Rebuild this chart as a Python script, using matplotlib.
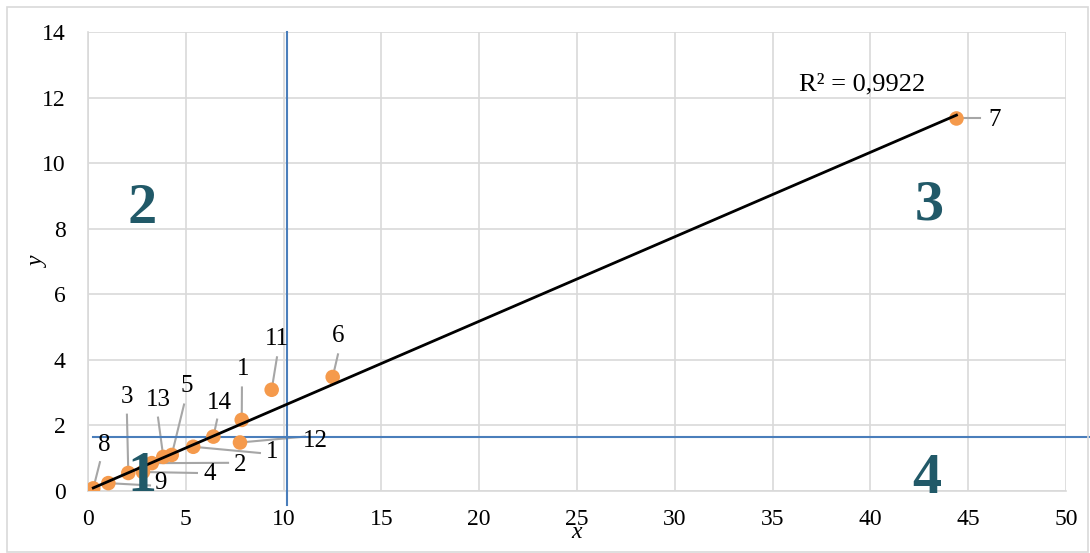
import numpy as np
import matplotlib
matplotlib.use("Agg")
import matplotlib.pyplot as plt
from matplotlib.patches import Rectangle

# ---- data ----
point_labels = ["8", "9", "3", "4", "2", "13", "5", "1", "14", "1", "12", "11", "6", "7"]
x_vals = [0.27, 1.04, 2.06, 2.81, 3.26, 3.85, 4.28, 5.38, 6.41, 7.86, 7.77, 9.39, 12.51, 44.4]
y_vals = [0.08, 0.24, 0.55, 0.58, 0.85, 1.04, 1.10, 1.35, 1.66, 2.17, 1.48, 3.09, 3.48, 11.37]
r2_text = "R² = 0,9922"
x_threshold = 10.17
y_threshold = 1.66
x_ticks = [0, 5, 10, 15, 20, 25, 30, 35, 40, 45, 50]
y_ticks = [0, 2, 4, 6, 8, 10, 12, 14]
quadrant_names = ["1", "2", "3", "4"]

# ---- layout (label positions and leader-line starts, data coords) ----
label_pos = [(0.82, 1.40), (3.68, 0.24), (1.99, 2.88), (6.24, 0.52), (7.77, 0.80),
             (3.58, 2.79), (5.06, 3.19), (9.41, 1.20), (6.70, 2.70), (7.92, 3.71),
             (11.6, 1.53), (9.66, 4.63), (12.78, 4.72), (46.37, 11.32)]
leader_start = [(0.61, 0.88), (3.17, 0.17), (1.99, 2.33), (5.57, 0.55), (7.16, 0.86),
                (3.58, 2.24), (4.91, 2.64), (8.79, 1.16), (6.60, 2.18), (7.87, 3.16),
                (11.09, 1.66), (9.66, 4.08), (12.78, 4.17), (45.6, 11.37)]
quadrant_pos = [(2.75, 0.44), (2.79, 8.62), (43.0, 8.7), (42.9, 0.38)]

serif = ["Liberation Serif", "DejaVu Serif"]
plt.rcParams["font.family"] = serif

fig = plt.figure(figsize=(10.9, 5.53), dpi=100)
ax = fig.add_axes([88/1090, 1 - 491/553, (1066 - 88)/1090, (491 - 32.3)/553])

# figure border
fig.patches.append(Rectangle((7/1090, 1/553), (1088 - 7)/1090, (546 - 1)/553,
                             transform=fig.transFigure,
                             fill=False, edgecolor="#D9D9D9", linewidth=1.2))

ax.set_xlim(0, 50)
ax.set_ylim(0, 14)
ax.set_xticks(x_ticks)
ax.set_yticks(y_ticks)
ax.grid(True, color="#D9D9D9", linewidth=1.2, zorder=0)
ax.set_axisbelow(True)
for s in ["top", "right"]:
    ax.spines[s].set_visible(False)
for s in ["left", "bottom"]:
    ax.spines[s].set_color("#D9D9D9")
    ax.spines[s].set_linewidth(1.2)
ax.tick_params(length=0, labelsize=17)
ax.tick_params(axis="y", pad=16)
ax.tick_params(axis="x", pad=13)
ax.set_xlabel("x", fontsize=17, style="italic", labelpad=-6)
ax.set_ylabel("y", fontsize=17, style="italic", labelpad=-5)

# threshold lines (extend beyond axes)
ax.plot([x_threshold, x_threshold], [-0.43, 14], color="#4A7EBB", linewidth=1.5,
        clip_on=False, zorder=3)
ax.plot([0.27, 51.3], [y_threshold, y_threshold], color="#4A7EBB", linewidth=1.5,
        clip_on=False, zorder=3)

# leader lines
for (sx, sy), px, py in zip(leader_start, x_vals, y_vals):
    ax.plot([sx, px], [sy, py], color="#A6A6A6", linewidth=1.5, zorder=2)

# points
ax.scatter(x_vals, y_vals, s=110, color="#F59A4C", edgecolors="none", zorder=4)

# trendline from least-squares fit
coef = np.polyfit(x_vals, y_vals, 1)
xl = np.array([min(x_vals), max(x_vals)])
ax.plot(xl, np.polyval(coef, xl), color="black", linewidth=2, zorder=5)
ax.text(39.6, 12.42, r2_text, fontsize=19, ha="center", va="center", zorder=6)

# point labels
for lab, (lx, ly) in zip(point_labels, label_pos):
    ax.text(lx, ly, lab, fontsize=18, ha="center", va="center", zorder=6)

# quadrant numbers
for name, (qx, qy) in zip(quadrant_names, quadrant_pos):
    ax.text(qx, qy, name, fontsize=42, fontweight="bold", color="#215968",
            ha="center", va="center", zorder=7)

fig.savefig("out.png", dpi=100)
